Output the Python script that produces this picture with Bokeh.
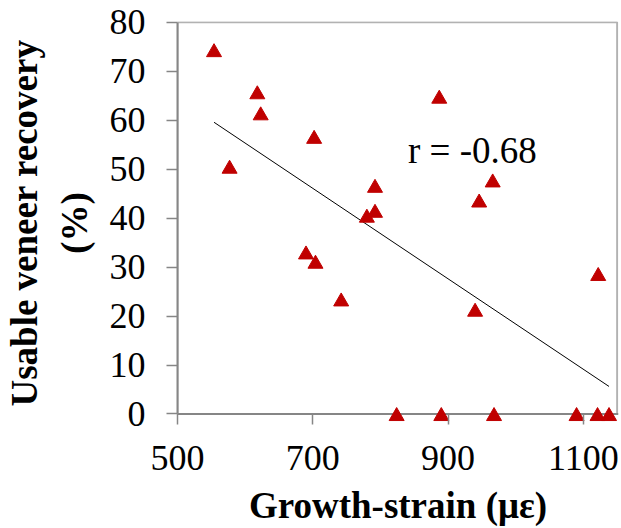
import numpy as np
from bokeh.plotting import figure
from bokeh.models import Range1d, Label, FixedTicker, ColumnDataSource, BoxAnnotation, Span
from bokeh.transform import dodge
from bokeh.embed import file_html
from bokeh.resources import INLINE

strain = [554, 618, 623, 702, 887, 577, 792, 966, 946, 792, 780,
          690, 704, 742, 940, 1122, 824, 890, 968, 1090, 1121, 1138]
recovery = [74.3, 65.7, 61.4, 56.6, 64.8, 50.5, 46.6, 47.7, 43.6, 41.5, 40.5,
            33.0, 31.1, 23.4, 21.3, 28.6, 0, 0, 0, 0, 0, 0]
x_ticks = [500, 700, 900, 1100]
y_ticks = [0, 10, 20, 30, 40, 50, 60, 70, 80]
x_min, x_max = 500, 1150
y_min, y_max = 0, 80
r_text = "r = -0.68"
x_title = "Growth-strain (με)"
y_title = "Usable veneer recovery\n(%)"

FONT = "Liberation Serif"
AXIS_GREY = "#868686"

p = figure(output_backend="svg", toolbar_location=None,
           x_range=Range1d(500, 1152), y_range=Range1d(-2.144, 80.143),
           frame_width=441, frame_height=403,
           min_border_left=177, min_border_top=21, min_border_right=2, min_border_bottom=104)

p.grid.visible = False
p.outline_line_color = None
p.background_fill_color = "white"
p.border_fill_color = "white"

for ax in (p.xaxis[0], p.yaxis[0]):
    ax.axis_line_color = AXIS_GREY
    ax.axis_line_width = 2
    ax.major_tick_line_color = AXIS_GREY
    ax.major_tick_line_width = 1.5
    ax.minor_tick_line_color = None
    ax.minor_tick_out = 0
    ax.minor_tick_in = 0
    ax.major_label_text_font = FONT
    ax.major_label_text_font_size = "36px"
    ax.major_label_text_color = "black"
    ax.axis_label_text_font = FONT
    ax.axis_label_text_font_style = "bold"
    ax.axis_label_text_font_size = "37px"
    ax.axis_label_text_color = "black"

# y axis
p.yaxis.ticker = FixedTicker(ticks=y_ticks)
p.yaxis.bounds = (y_min, y_max)
p.yaxis.major_tick_out = 11
p.yaxis.major_tick_in = 0
p.yaxis.major_label_standoff = 21
p.yaxis.axis_label = y_title
p.yaxis.axis_label_standoff = 12

# x axis sits at the frame bottom, its ticks reach up to y = 0
p.xaxis.ticker = FixedTicker(ticks=x_ticks)
p.xaxis.axis_line_color = None
p.xaxis.major_tick_out = 0
p.xaxis.major_tick_in = 11
p.xaxis.major_label_standoff = 21
p.xaxis.axis_label = x_title
p.xaxis.axis_label_standoff = 12

# plot-area border, drawn beneath the axes and marks
p.add_layout(BoxAnnotation(left=x_min, right=x_max, bottom=y_min, top=y_max,
                           fill_color=None, line_color="black", line_width=2,
                           level="underlay"))
# x axis line at y = 0
p.add_layout(Span(location=y_min, dimension="width", line_color=AXIS_GREY,
                  line_width=2, level="underlay"))

src = ColumnDataSource(dict(x=strain, y=recovery))

p.line([x_min, x_max], [y_min, y_min], line_color=AXIS_GREY, line_width=2)

slope, intercept = np.polyfit(strain, recovery, 1)
xs = [min(strain), max(strain)]
ys = [slope * v + intercept for v in xs]
p.line(xs, ys, line_color="black", line_width=1)

# bokeh centres triangles on their centroid; shift to centre the bounding box
p.scatter(x="x", y=dodge("y", -0.45, range=p.y_range), source=src,
          marker="triangle", size=15, fill_color="#C00000", line_color="#C00000")

p.add_layout(Label(x=936, y=53.8, text=r_text, text_align="center",
                   text_baseline="middle", text_font=FONT,
                   text_font_size="37px", text_color="black"))

open("out.html", "w").write(file_html(p, INLINE))
